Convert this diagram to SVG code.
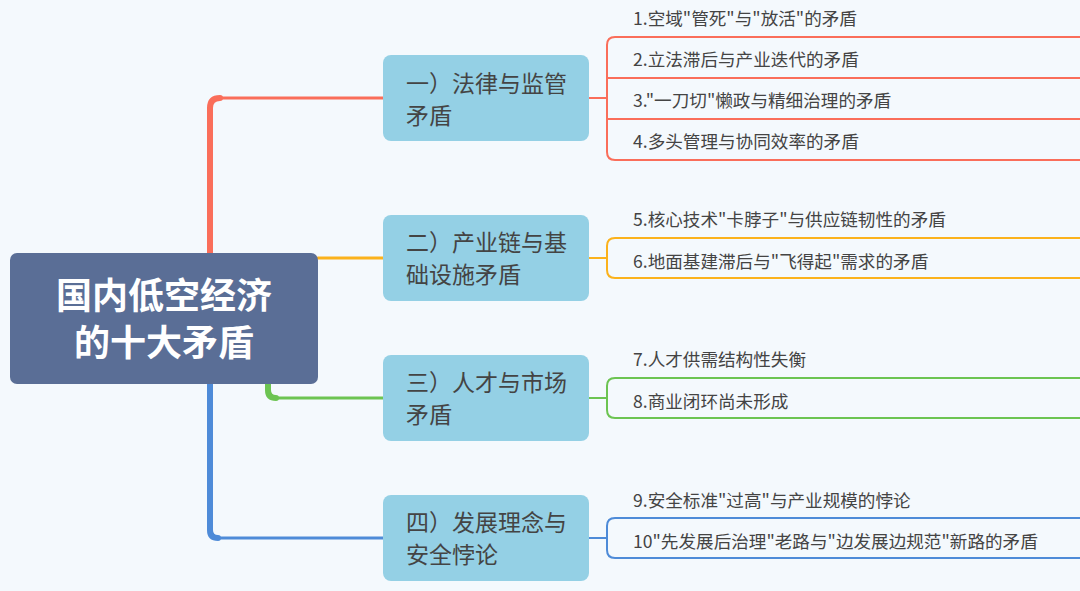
<svg xmlns="http://www.w3.org/2000/svg" width="1080" height="591" viewBox="0 0 1080 591">
<style>
.sub{font-family:"Noto Sans CJK SC","Liberation Sans",sans-serif;font-size:17.6px;fill:#444}
.br{font-family:"Noto Sans CJK SC","Liberation Sans",sans-serif;font-size:23px;fill:#444}
.ln{fill:none;stroke-linecap:round}
</style>
<rect width="1080" height="591" fill="#f4f9fd"/>
<g id="connectors">
<path class="ln" d="M210 253 V108 Q210 98 220 98" stroke="#fa6e5a" stroke-width="6"/>
<path class="ln" d="M218 98 H383" stroke="#fa6e5a" stroke-width="3"/>
<path class="ln" d="M318 258 H383" stroke="#fbb21c" stroke-width="3"/>
<path class="ln" d="M268 384 V390 Q268 398 276 398" stroke="#6cc452" stroke-width="6"/>
<path class="ln" d="M274 398 H383" stroke="#6cc452" stroke-width="3"/>
<path class="ln" d="M210 384 V530 Q210 538 218 538" stroke="#4e8bd8" stroke-width="6"/>
<path class="ln" d="M216 538 H383" stroke="#4e8bd8" stroke-width="3"/>
<g stroke="#fa6e5a" stroke-width="2" fill="none">
<path d="M589 98 H607 M1080 37 H615 Q607 37 607 45 V152 Q607 160 615 160 H1080 M607 78 H1080 M607 119 H1080"/>
</g>
<g stroke="#fbb21c" stroke-width="2" fill="none">
<path d="M589 258 H607 M1080 238 H615 Q607 238 607 246 V270 Q607 278 615 278 H1080"/>
</g>
<g stroke="#6cc452" stroke-width="2" fill="none">
<path d="M589 398 H607 M1080 378 H615 Q607 378 607 386 V410 Q607 418 615 418 H1080"/>
</g>
<g stroke="#4e8bd8" stroke-width="2" fill="none">
<path d="M589 538 H607 M1080 518 H615 Q607 518 607 526 V550 Q607 558 615 558 H1080"/>
</g>
</g>
<g id="root">
<rect x="10" y="253" width="308" height="131" rx="7" fill="#5a6e96"/>
<text x="164" y="309" text-anchor="middle" font-family="Noto Sans CJK SC,sans-serif" font-weight="bold" font-size="36" fill="#fff">国内低空经济</text>
<text x="164" y="356" text-anchor="middle" font-family="Noto Sans CJK SC,sans-serif" font-weight="bold" font-size="36" fill="#fff">的十大矛盾</text>
</g>
<g id="b1"><rect x="383" y="55" width="206" height="86" rx="8" fill="#94d0e5"/><text class="br" x="406" y="92">一）法律与监管</text><text class="br" x="406" y="124">矛盾</text></g>
<g id="b2"><rect x="383" y="215" width="206" height="86" rx="8" fill="#94d0e5"/><text class="br" x="406" y="251">二）产业链与基</text><text class="br" x="406" y="283">础设施矛盾</text></g>
<g id="b3"><rect x="383" y="355" width="206" height="86" rx="8" fill="#94d0e5"/><text class="br" x="406" y="391">三）人才与市场</text><text class="br" x="406" y="423">矛盾</text></g>
<g id="b4"><rect x="383" y="495" width="206" height="86" rx="8" fill="#94d0e5"/><text class="br" x="406" y="531">四）发展理念与</text><text class="br" x="406" y="563">安全悖论</text></g>
<g id="s1"><text class="sub" x="633" y="25">1.空域"管死"与"放活"的矛盾</text></g>
<g id="s2"><text class="sub" x="633" y="66">2.立法滞后与产业迭代的矛盾</text></g>
<g id="s3"><text class="sub" x="633" y="107">3."一刀切"懒政与精细治理的矛盾</text></g>
<g id="s4"><text class="sub" x="633" y="148">4.多头管理与协同效率的矛盾</text></g>
<g id="s5"><text class="sub" x="633" y="226">5.核心技术"卡脖子"与供应链韧性的矛盾</text></g>
<g id="s6"><text class="sub" x="633" y="268">6.地面基建滞后与"飞得起"需求的矛盾</text></g>
<g id="s7"><text class="sub" x="633" y="366">7.人才供需结构性失衡</text></g>
<g id="s8"><text class="sub" x="633" y="408">8.商业闭环尚未形成</text></g>
<g id="s9"><text class="sub" x="633" y="507">9.安全标准"过高"与产业规模的悖论</text></g>
<g id="s10"><text class="sub" x="633" y="548">10"先发展后治理"老路与"边发展边规范"新路的矛盾</text></g>
</svg>
